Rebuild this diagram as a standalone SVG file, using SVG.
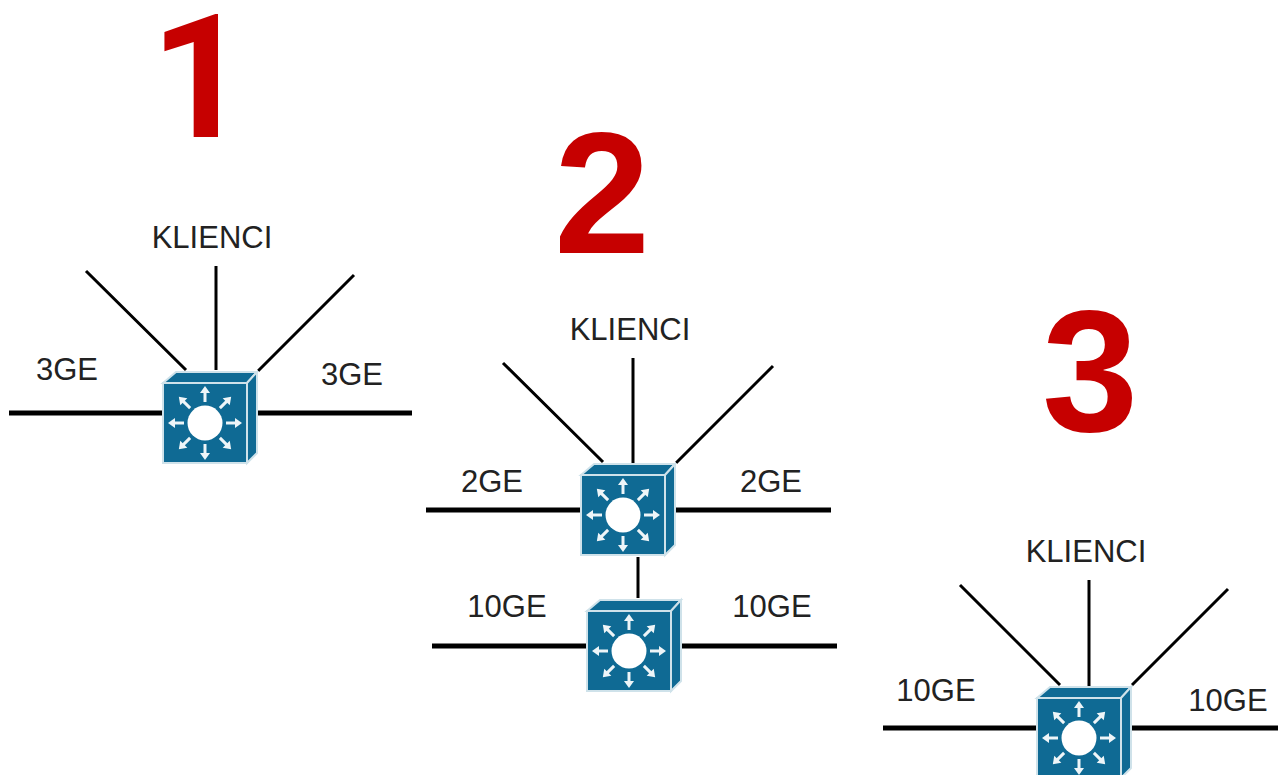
<svg xmlns="http://www.w3.org/2000/svg" width="1278" height="775" viewBox="0 0 1278 775">
<style>
.t{font-family:"Liberation Sans",Arial,sans-serif;font-size:31px;fill:#222;text-anchor:middle}
.n{font-family:"Liberation Sans",Arial,sans-serif;font-size:173px;font-weight:bold;fill:#c60000;text-anchor:middle}
.r{font-family:Roboto,"Liberation Sans",sans-serif}
.thin{stroke:#000;stroke-width:3;fill:none}
.thick{stroke:#000;stroke-width:5;fill:none}
.a{stroke:#eef5f8;stroke-width:3;fill:none}
.h{fill:#eef5f8}
</style>
<defs>
<g id="sw">
<path d="M0 0L13-11H94L84 0Z" fill="#0f6a94" stroke="#cfe2ea" stroke-width="2"/>
<path d="M84 0L94-11V70L84 80Z" fill="#0f6a94" stroke="#cfe2ea" stroke-width="2"/>
<rect x="0" y="0" width="84" height="80" fill="#0f6a94" stroke="#cfe2ea" stroke-width="2"/>
<circle cx="42" cy="40" r="17.5" fill="#fff"/>
<g id="arr"><path class="a" d="M42 19V9"/><path class="h" d="M42 3L47 10H37Z"/></g>
<use href="#arr" transform="rotate(45 42 40)"/>
<use href="#arr" transform="rotate(90 42 40)"/>
<use href="#arr" transform="rotate(135 42 40)"/>
<use href="#arr" transform="rotate(180 42 40)"/>
<use href="#arr" transform="rotate(225 42 40)"/>
<use href="#arr" transform="rotate(270 42 40)"/>
<use href="#arr" transform="rotate(315 42 40)"/>
</g>
</defs>
<g id="connectors">
<path class="thin" d="M86 271L186 370M216 266V370M354 275L258 371"/>
<path class="thick" d="M9 413H163M258 413H412"/>
<path class="thin" d="M503 363L603 462M633 358V463M773 366L676 463"/>
<path class="thick" d="M426 510H581M675 510H831"/>
<path class="thin" d="M638 557V598"/>
<path class="thick" d="M432 646H587M682 646H837"/>
<path class="thin" d="M960 585L1060 685M1089 580V686M1228 589L1132 685"/>
<path class="thick" d="M883 728H1037M1131 728H1278"/>
</g>
<g id="switch-1"><use href="#sw" x="163" y="383"/></g>
<g id="switch-2a"><use href="#sw" x="581" y="475"/></g>
<g id="switch-2b"><use href="#sw" x="587" y="611"/></g>
<g id="switch-3"><use href="#sw" x="1037" y="698"/></g>
<g id="labels">
<text class="n r" x="200" y="137">1</text>
<text class="n" x="602" y="253">2</text>
<text class="n" x="1090" y="431">3</text>
<text class="t" x="212" y="248">KLIENCI</text>
<text class="t" x="67" y="380">3GE</text>
<text class="t" x="352" y="385">3GE</text>
<text class="t" x="630" y="340">KLIENCI</text>
<text class="t" x="492" y="492">2GE</text>
<text class="t" x="771" y="492">2GE</text>
<text class="t" x="507" y="617">10GE</text>
<text class="t" x="772" y="617">10GE</text>
<text class="t" x="1086" y="562">KLIENCI</text>
<text class="t" x="936" y="701">10GE</text>
<text class="t" x="1228" y="711">10GE</text>
</g>
</svg>
